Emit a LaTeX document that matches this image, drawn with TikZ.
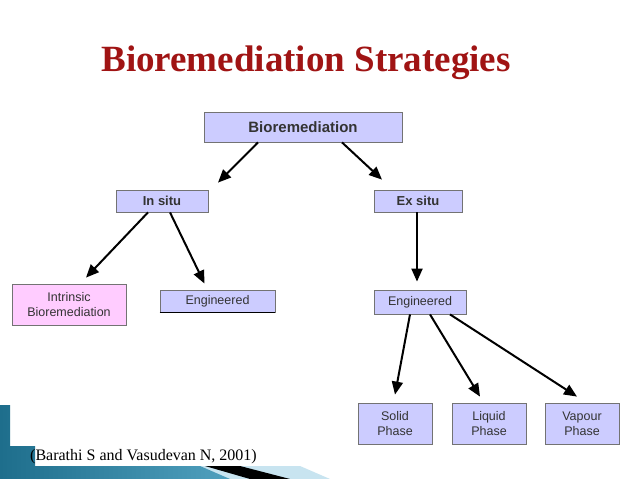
\documentclass[tikz,border=0pt]{standalone}
\usepackage{fontspec}
\setmainfont{Liberation Serif}
\newfontfamily\arialf{Liberation Sans}
\usetikzlibrary{arrows.meta}
\definecolor{boxblue}{RGB}{204,204,255}
\definecolor{boxpink}{RGB}{255,204,255}
\definecolor{titlered}{RGB}{160,20,20}
\definecolor{teal1}{RGB}{30,110,140}
\definecolor{teal2}{RGB}{80,160,190}
\definecolor{lightb}{RGB}{200,228,240}
\tikzset{
  bx/.style={draw=black!55, line width=0.8pt, fill=boxblue, font=\arialf\fontsize{12.5}{15}\selectfont, align=center, inner sep=0pt, text=black!80},
  arr/.style={-{Triangle[length=13pt,width=11pt]}, line width=2pt}
}
\begin{document}
\begin{tikzpicture}[x=1pt,y=-1pt]
\useasboundingbox (0,0) rectangle (638,479);
\fill[white] (0,0) rectangle (638,479);
% decoration bottom-left
\fill[lightb] (150,479) -- (160,466) -- (300,466) -- (330,479) -- cycle;
\shade[left color=teal1, right color=teal2] (0,405) -- (10,405) -- (10,446) -- (35,446) -- (35,466) -- (200,466) -- (230,479) -- (0,479) -- cycle;
\fill[black] (205,466) -- (240,466) -- (290,479) -- (250,479) -- cycle;
\node[font=\fontsize{16}{18}\selectfont, anchor=west, inner sep=0pt] (cite) at (30,457) {(Barathi S and Vasudevan N, 2001)};
\node[font=\bfseries\fontsize{37}{40}\selectfont, text=titlered] (title) at (306,63) {Bioremediation Strategies};
\node[bx, minimum width=198pt, minimum height=30pt, font=\arialf\bfseries\fontsize{15}{17}\selectfont] (bio) at (303,127) {Bioremediation};
\node[bx, minimum width=92pt, minimum height=22pt, font=\arialf\bfseries\fontsize{13}{15}\selectfont] (insitu) at (162,201) {In situ};
\node[bx, minimum width=88pt, minimum height=22pt, font=\arialf\bfseries\fontsize{13}{15}\selectfont] (exsitu) at (418,201) {Ex situ};
\node[bx, fill=boxpink, minimum width=114pt, minimum height=41pt] (intr) at (69,304.5) {Intrinsic\\Bioremediation};
\node[bx, minimum width=115pt, minimum height=22pt] (engl) at (217.5,301) {Engineered};
\draw[line width=1pt] (engl.south west) -- (engl.south east);
\node[bx, minimum width=92pt, minimum height=24pt] (engr) at (420,302) {Engineered};
\node[bx, minimum width=74pt, minimum height=41pt] (solid) at (395,423.5) {Solid\\Phase};
\node[bx, minimum width=74pt, minimum height=41pt] (liquid) at (489,423.5) {Liquid\\Phase};
\node[bx, minimum width=74pt, minimum height=41pt] (vapour) at (582,423.5) {Vapour\\Phase};
\draw[arr] ([xshift=-45pt]bio.south) -- ([xshift=56pt,yshift=7pt]insitu.north);
\draw[arr] ([xshift=39pt]bio.south) -- ([xshift=-36pt,yshift=10pt]exsitu.north);
\draw[arr] ([xshift=-14pt]insitu.south) -- ([xshift=17pt,yshift=6pt]intr.north);
\draw[arr] ([xshift=8pt]insitu.south) -- ([xshift=-13pt,yshift=6pt]engl.north);
\draw[arr] ([xshift=-1pt]exsitu.south) -- ([xshift=-3pt,yshift=8pt]engr.north);
\draw[arr] ([xshift=-10pt]engr.south) -- ([yshift=8pt]solid.north);
\draw[arr] ([xshift=10pt]engr.south) -- ([xshift=-9pt,yshift=6pt]liquid.north);
\draw[arr] ([xshift=30pt]engr.south) -- ([xshift=-5pt,yshift=6pt]vapour.north);
\end{tikzpicture}
\end{document}
